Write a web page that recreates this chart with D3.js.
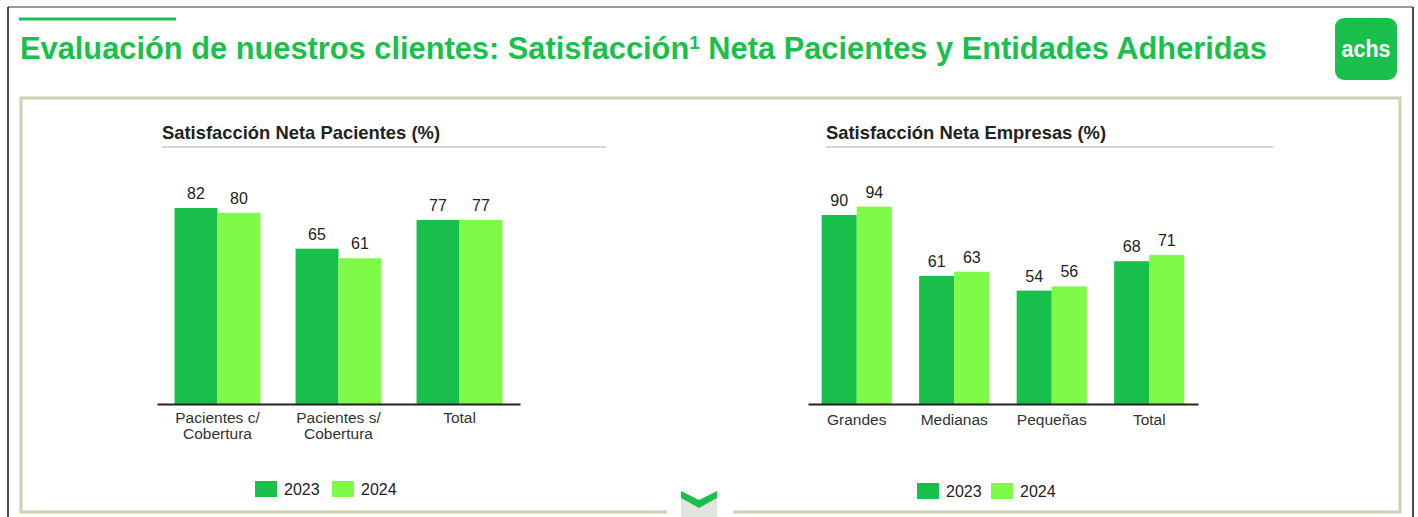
<!DOCTYPE html>
<html>
<head>
<meta charset="utf-8">
<script src="https://cdn.jsdelivr.net/npm/d3@7"></script>
<style>
  body { margin: 0; background: #fff; }
  svg { display: block; font-family: "Liberation Sans", Arial, sans-serif; }
</style>
</head>
<body>
<svg id="viz" width="1418" height="517"></svg>
<script>
// data
var years = ["2023", "2024"];
var yearColors = ["#19bf4b", "#7dfb46"];

var pacCategories = ["Pacientes c/\nCobertura", "Pacientes s/\nCobertura", "Total"];
var pac2023 = [82, 65, 77];
var pac2024 = [80, 61, 77];

var empCategories = ["Grandes", "Medianas", "Pequeñas", "Total"];
var emp2023 = [90, 61, 54, 68];
var emp2024 = [94, 63, 56, 71];

var svg = d3.select("#viz");
var green = "#1abf4c";

// frame
svg.append("line").attr("x1", 8).attr("x2", 1413).attr("y1", 7).attr("y2", 7)
    .style("stroke", "#777").style("stroke-width", 1.5);
svg.append("line").attr("x1", 8).attr("x2", 8).attr("y1", 7).attr("y2", 517)
    .style("stroke", "#111").style("stroke-width", 1.5);
svg.append("line").attr("x1", 1413).attr("x2", 1413).attr("y1", 7).attr("y2", 517)
    .style("stroke", "#111").style("stroke-width", 1.5);

// top accent + title
svg.append("line").attr("x1", 19).attr("x2", 176).attr("y1", 19).attr("y2", 19)
    .style("stroke", green).style("stroke-width", 3);

var title = svg.append("text")
    .attr("x", 20).attr("y", 59)
    .attr("font-size", 30.8).attr("font-weight", "bold")
    .attr("fill", green);
title.append("tspan").text("Evaluación de nuestros clientes: Satisfacción");
title.append("tspan").text("1").attr("font-size", 19).attr("dy", -10);
title.append("tspan").text(" Neta Pacientes y Entidades Adheridas").attr("dy", 10);

// logo
svg.append("rect").attr("x", 1335).attr("y", 18).attr("width", 62).attr("height", 62)
    .attr("rx", 9).attr("fill", green);
svg.append("text").attr("x", 1366).attr("y", 57).attr("text-anchor", "middle")
    .attr("font-size", 23).attr("font-weight", "bold").attr("fill", "#fff")
    .attr("textLength", 49).attr("lengthAdjust", "spacingAndGlyphs")
    .text("achs");

// panel
svg.append("path")
    .attr("d", "M667,512 L21,512 L21,98 L1400,98 L1400,512 L733,512")
    .attr("fill", "none").style("stroke", "#cfd0b4").style("stroke-width", 3);

// chevron
svg.append("path")
    .attr("d", "M681,498 L699,508 L717,498 L717,517 L681,517 Z")
    .attr("fill", "#e1e5e0");
svg.append("path")
    .attr("d", "M681,491 L699,500 L717,491 L717,498 L699,508 L681,498 Z")
    .attr("fill", green);

function drawChart(opts) {
    var g = svg.append("g");

    g.append("text").attr("x", opts.titleX).attr("y", 139)
        .attr("font-size", 18.4).attr("font-weight", "bold").attr("fill", "#222")
        .text(opts.title);
    g.append("line").attr("x1", opts.titleX).attr("x2", opts.ruleEnd)
        .attr("y1", 147).attr("y2", 147)
        .style("stroke", "#a8a8a8").style("stroke-width", 1);

    var x = d3.scaleBand()
        .domain(opts.categories)
        .range(opts.xRange)
        .paddingInner(opts.pad)
        .paddingOuter(opts.pad / 2);
    var xs = d3.scaleBand().domain(years).range([0, x.bandwidth()]);
    var y = d3.scaleLinear().domain([0, 100]).range([404, 404 - opts.pxPerUnit * 100]);

    var rows = opts.categories.map(function (c, i) {
        return { cat: c, values: [opts.s2023[i], opts.s2024[i]] };
    });

    var groups = g.selectAll(".grp").data(rows).enter().append("g")
        .attr("transform", function (d) { return "translate(" + x(d.cat) + ",0)"; });

    groups.selectAll("rect")
        .data(function (d) { return d.values.map(function (v, j) { return { year: years[j], v: v, j: j }; }); })
        .enter().append("rect")
        .attr("x", function (d) { return xs(d.year); })
        .attr("width", xs.bandwidth())
        .attr("y", function (d) { return y(d.v); })
        .attr("height", function (d) { return y(0) - y(d.v); })
        .attr("fill", function (d) { return yearColors[d.j]; });

    groups.selectAll(".lbl")
        .data(function (d) { return d.values.map(function (v, j) { return { year: years[j], v: v }; }); })
        .enter().append("text")
        .attr("x", function (d) { return xs(d.year) + xs.bandwidth() / 2; })
        .attr("y", function (d) { return y(d.v) - 9; })
        .attr("text-anchor", "middle")
        .attr("font-size", 16).attr("fill", "#222")
        .text(function (d) { return d.v; });

    var axis = g.append("g")
        .attr("transform", "translate(0,404)")
        .call(d3.axisBottom(x).tickSize(0).tickSizeOuter(0).tickPadding(opts.tickPad));
    axis.select(".domain").style("stroke", "#222").style("stroke-width", 2);
    axis.selectAll(".tick text")
        .attr("font-size", 15.5).attr("fill", "#333")
        .attr("font-family", "Liberation Sans, Arial, sans-serif")
        .each(function (d) {
            var t = d3.select(this);
            var lines = d.split("\n");
            if (lines.length > 1) {
                t.text(null);
                lines.forEach(function (l, k) {
                    t.append("tspan").attr("x", 0).attr("dy", k === 0 ? "0.71em" : "1.03em").text(l);
                });
            }
        });

    // legend
    var leg = g.append("g");
    years.forEach(function (yr, j) {
        leg.append("rect").attr("x", opts.legendX[j]).attr("y", opts.legendY)
            .attr("width", 22).attr("height", 16).attr("fill", yearColors[j]);
        leg.append("text").attr("x", opts.legendX[j] + 29).attr("y", opts.legendY + 14)
            .attr("font-size", 16).attr("fill", "#222").text(yr);
    });
}

drawChart({
    title: "Satisfacción Neta Pacientes (%)",
    titleX: 162, ruleEnd: 606,
    categories: pacCategories, s2023: pac2023, s2024: pac2024,
    xRange: [157, 520], pad: 0.29, pxPerUnit: 2.39, tickPad: 8,
    legendX: [255, 332], legendY: 481
});

drawChart({
    title: "Satisfacción Neta Empresas (%)",
    titleX: 826, ruleEnd: 1273,
    categories: empCategories, s2023: emp2023, s2024: emp2024,
    xRange: [808, 1198], pad: 0.28, pxPerUnit: 2.1, tickPad: 10,
    legendX: [917, 991], legendY: 483
});
</script>
</body>
</html>
